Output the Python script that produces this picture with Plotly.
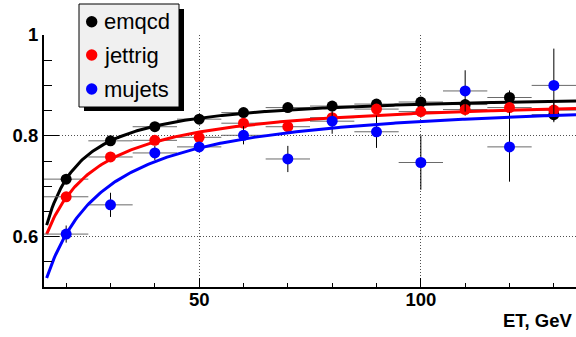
import numpy as np
import plotly.graph_objects as go

# Bin centres (GeV) and half-width of each ET bin
et = [20, 30, 40, 50, 60, 70, 80, 90, 100, 110, 120, 130]
et_halfwidth = 5

# Efficiencies per sample
emqcd = [0.714, 0.790, 0.818, 0.833, 0.846, 0.856, 0.859, 0.863, 0.867, 0.862, 0.876, 0.842]
emqcd_err = [0.008, 0.006, 0.006, 0.006, 0.006, 0.007, 0.008, 0.008, 0.009, 0.010, 0.014, 0.012]

jettrig = [0.679, 0.758, 0.791, 0.797, 0.825, 0.818, 0.836, 0.853, 0.848, 0.852, 0.856, 0.851]
jettrig_err = [0.008, 0.007, 0.006, 0.007, 0.007, 0.008, 0.010, 0.010, 0.012, 0.012, 0.014, 0.015]

mujets = [0.605, 0.663, 0.766, 0.778, 0.801, 0.754, 0.829, 0.808, 0.747, 0.889, 0.778, 0.900]
mujets_err = [0.017, 0.024, 0.014, 0.010, 0.018, 0.026, 0.025, 0.032, 0.054, 0.041, 0.069, 0.073]

# Fit parameters for f(ET) = a - b / (ET - c)
fit_emqcd = [0.886, 2.179, 7.32]
fit_jettrig = [0.8795, 3.36, 3.36]
fit_mujets = [0.879, 4.968, 1.85]
fit_range = [15.6, 135.0]

series = [
    ("emqcd", emqcd, emqcd_err, fit_emqcd, "#000000"),
    ("jettrig", jettrig, jettrig_err, fit_jettrig, "#ff0000"),
    ("mujets", mujets, mujets_err, fit_mujets, "#0000ff"),
]

FONT = "Liberation Sans"
L, R, T, B = 44, 0, 35, 50
W, H = 576, 337
PW, PH = W - L - R, H - T - B


def px(x):
    return (x - L) / PW


def py(y):
    return (H - B - y) / PH


fig = go.Figure()
xf = np.linspace(fit_range[0], fit_range[1], 300)
for name, vals, errs, (a, b, c), col in series:
    fig.add_trace(go.Scatter(
        x=et, y=vals, mode="markers", name=name,
        marker=dict(color=col, size=11, line=dict(width=0)),
        error_x=dict(type="constant", value=et_halfwidth, thickness=1, width=0, color="#6a6a6a"),
        error_y=dict(type="data", array=errs, thickness=1, width=0, color="#000000"),
        showlegend=False,
    ))
    fig.add_trace(go.Scatter(
        x=xf, y=a - b / (xf - c), mode="lines",
        line=dict(color=col, width=3), showlegend=False, hoverinfo="skip",
    ))

axis_common = dict(
    showline=True, linecolor="black", linewidth=2,
    showgrid=True, gridcolor="#505050", griddash="1px,2px", gridwidth=1,
    zeroline=False, ticks="inside", tickcolor="black", tickwidth=1,
    tickfont=dict(family=FONT, size=18.5, color="black", weight="bold"),
)

fig.update_xaxes(
    range=[15, 135], tickmode="linear", tick0=0, dtick=50, ticklen=9,
    ticklabelstandoff=-5,
    minor=dict(tickmode="linear", tick0=0, dtick=10, ticklen=4, ticks="inside",
               tickcolor="black", tickwidth=1, showgrid=False),
    **axis_common,
)
fig.update_yaxes(
    range=[0.5, 1.0], tickmode="linear", tick0=0, dtick=0.2, ticklen=15,
    minor=dict(tickmode="linear", tick0=0, dtick=0.05, ticklen=8, ticks="inside",
               tickcolor="black", tickwidth=1, showgrid=False),
    **axis_common,
)

shapes = [
    # legend shadow and box
    dict(type="rect", xref="paper", yref="paper", x0=px(84), x1=px(184), y0=py(111), y1=py(9),
         fillcolor="black", line=dict(width=0), layer="above"),
    dict(type="rect", xref="paper", yref="paper", x0=px(79), x1=px(179), y0=py(107), y1=py(4),
         fillcolor="#f0f0f0", line=dict(color="black", width=1), layer="above"),
]
annotations = []
rows = [21.7, 55.0, 89.0]
for (name, _, _, _, col), ry in zip(series, rows):
    r = 5.7
    shapes.append(dict(type="circle", xref="paper", yref="paper",
                       x0=px(91.7 - r), x1=px(91.7 + r), y0=py(ry + r), y1=py(ry - r),
                       fillcolor=col, line=dict(width=0), layer="above"))
    annotations.append(dict(xref="paper", yref="paper", x=px(102), y=py(ry),
                            xanchor="left", yanchor="middle", showarrow=False, text=name,
                            font=dict(family=FONT, size=22, color="black")))

annotations.append(dict(xref="paper", yref="paper", x=px(575), y=py(320),
                        xanchor="right", yanchor="middle", showarrow=False, text="ET, GeV",
                        font=dict(family=FONT, size=18.5, color="black", weight="bold")))

fig.update_layout(
    width=W, height=H,
    margin=dict(l=L, r=R, t=T, b=B, pad=0),
    paper_bgcolor="white", plot_bgcolor="white",
    shapes=shapes, annotations=annotations,
    showlegend=False,
)

fig.write_html("out.html")
